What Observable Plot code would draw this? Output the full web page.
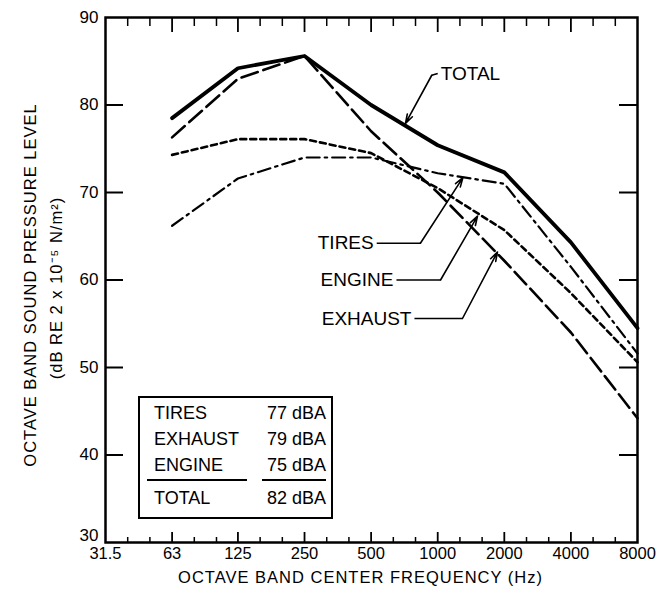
<!DOCTYPE html>
<html>
<head>
<meta charset="utf-8">
<script src="https://cdn.jsdelivr.net/npm/d3@7"></script>
<script src="https://cdn.jsdelivr.net/npm/@observablehq/plot@0.6"></script>
<style>
  html, body { margin: 0; padding: 0; background: #fff; }
  #chart { position: relative; width: 659px; height: 602px; font-family: "Liberation Sans", Arial, sans-serif; }
  #chart svg { display: block; }
  .levels {
    position: absolute; left: 138px; top: 396px; width: 195px; height: 123px;
    box-sizing: border-box; border: 2.5px solid #000; background: #fff;
    font-size: 18px; color: #000; padding: 2px 0 0 0;
  }
  .levels .row { position: relative; height: 26px; line-height: 26px; }
  .levels .name { position: absolute; left: 14px; }
  .levels .val { position: absolute; right: 5px; }
  .levels .rules { position: relative; height: 5px; }
  .levels .rules span { position: absolute; top: 1px; border-top: 2.5px solid #000; }
  .levels .total { margin-top: 2px; }
</style>
</head>
<body>
<div id="chart"></div>
<script>
// Octave band centre frequencies (Hz) and band levels (dB re 2x10^-5 N/m^2)
const bands = [63, 125, 250, 500, 1000, 2000, 4000, 8000];
const total   = [78.5, 84.2, 85.6, 80.0, 75.4, 72.3, 64.3, 54.5];
const exhaust = [76.3, 83.0, 85.6, 77.0, 70.0, 62.2, 54.0, 44.2];
const engine  = [74.3, 76.1, 76.1, 74.5, 70.5, 65.7, 58.5, 50.6];
const tires   = [66.2, 71.6, 74.0, 74.0, 72.2, 71.0, 61.5, 51.6];

// Axis ticks and labels
const xTicks = [31.5, 63, 125, 250, 500, 1000, 2000, 4000, 8000];
const xTickLabels = ["31.5", "63", "125", "250", "500", "1000", "2000", "4000", "8000"];
const yTicks = [30, 40, 50, 60, 70, 80, 90];

// Overall A-weighted levels
const levelNames = ["TIRES", "EXHAUST", "ENGINE"];
const levelValues = ["77 dBA", "79 dBA", "75 dBA"];
const totalName = "TOTAL";
const totalValue = "82 dBA";

// Curve call-outs: label anchor, leader elbow, arrow tip (Hz, dB)
const calloutText  = ["TOTAL", "TIRES", "ENGINE", "EXHAUST"];
const calloutHz    = [1000, 530, 651, 785];
const calloutDb    = [83.6, 64.2, 60.0, 55.6];
const elbowHz      = [940, 835, 1030, 1294];
const elbowDb      = [83.4, 64.2, 60.0, 55.6];
const tipHz        = [715, 1300, 1513, 1862];
const tipDb        = [77.9, 71.7, 67.3, 63.2];

const W = 659, H = 602;
const mL = 105, mR = 22, mT = 17, mB = 60;
const xMin = 31.5, xMax = 8000, yMin = 30, yMax = 90;
const pxPerOct = (W - mL - mR) / Math.log2(xMax / xMin);
const pxPerDb = (H - mT - mB) / (yMax - yMin);
const dbOf = px => px / pxPerDb;          // vertical pixel length -> dB
const octOf = px => 2 ** (px / pxPerOct); // horizontal pixel length -> frequency ratio

// Third-octave minor ticks between the octave centres
const minorTicks = xTicks.slice(0, -1).flatMap(f => [f * 2 ** (1 / 3), f * 2 ** (2 / 3)]);
const innerY = yTicks.slice(1, -1);

const rows = (name, vals) => bands.map((f, i) => ({series: name, f, db: vals[i]}));
const callouts = calloutText.map((t, i) => ({
  t, hz: calloutHz[i], db: calloutDb[i], ex: elbowHz[i], ey: elbowDb[i], tx: tipHz[i], ty: tipDb[i],
  anchor: i === 0 ? "start" : "end"
}));

const font = "'Liberation Sans', Arial, sans-serif";

const plot = Plot.plot({
  width: W, height: H,
  marginLeft: mL, marginRight: mR, marginTop: mT, marginBottom: mB,
  style: {fontFamily: font, fontSize: "17px", color: "#000", background: "#fff"},
  x: {type: "log", base: 2, domain: [xMin, xMax]},
  y: {domain: [yMin, yMax]},
  marks: [
    // tick marks drawn inward from every side of the frame
    Plot.ruleX(xTicks.slice(1, -1), {y1: yMin, y2: yMin + dbOf(10), strokeWidth: 1.8}),
    Plot.ruleX(minorTicks, {y1: yMin, y2: yMin + dbOf(5), strokeWidth: 1.5}),
    Plot.ruleX(xTicks.slice(1, -1), {y1: yMax, y2: yMax - dbOf(15), strokeWidth: 1.8}),
    Plot.ruleX(minorTicks, {y1: yMax, y2: yMax - dbOf(9), strokeWidth: 1.5}),
    Plot.ruleY(innerY, {x1: xMin, x2: xMin * octOf(18), strokeWidth: 2}),
    Plot.ruleY(innerY, {x1: xMax, x2: xMax / octOf(18), strokeWidth: 2}),
    Plot.frame({stroke: "#000", strokeWidth: 2.5}),
    Plot.axisY({ticks: yTicks.slice(1), tickSize: 0, tickPadding: 7, tickFormat: d => String(d), fontSize: 17}),
    // the corner label sits a little higher to clear the 31.5 Hz label
    Plot.axisY({ticks: yTicks.slice(0, 1), tickSize: 0, tickPadding: 7, dy: -7, tickFormat: d => String(d), fontSize: 17}),
    Plot.axisX({ticks: xTicks, tickSize: 0, tickPadding: 5, tickFormat: d => xTickLabels[xTicks.indexOf(d)], fontSize: 16.5}),

    // band spectra
    Plot.line(rows("TIRES", tires), {x: "f", y: "db", stroke: "#000", strokeWidth: 2.2, strokeDasharray: "13,5,2.5,5"}),
    Plot.line(rows("ENGINE", engine), {x: "f", y: "db", stroke: "#000", strokeWidth: 2.6, strokeDasharray: "6,4"}),
    Plot.line(rows("EXHAUST", exhaust), {x: "f", y: "db", stroke: "#000", strokeWidth: 2.6, strokeDasharray: "17,6"}),
    Plot.line(rows("TOTAL", total), {x: "f", y: "db", stroke: "#000", strokeWidth: 3.8}),

    // call-outs
    Plot.link(callouts, {x1: "hz", y1: "db", x2: "ex", y2: "ey", stroke: "#000", strokeWidth: 1.6}),
    Plot.arrow(callouts, {x1: "ex", y1: "ey", x2: "tx", y2: "ty", stroke: "#000", strokeWidth: 1.6, headLength: 9, headAngle: 35}),
    Plot.text(callouts.filter(d => d.anchor === "end"), {x: "hz", y: "db", text: "t", textAnchor: "end", dx: -3, fontSize: 19, fill: "#000"}),
    Plot.text(callouts.filter(d => d.anchor === "start"), {x: "hz", y: "db", text: "t", textAnchor: "start", dx: 3, fontSize: 19, fill: "#000"}),

    // axis titles
    Plot.text(["OCTAVE BAND SOUND PRESSURE LEVEL"], {frameAnchor: "left", textAnchor: "middle", dx: -75, dy: 5, rotate: -90, fontSize: 16.5, fill: "#000"}),
    Plot.text(["(dB RE 2 x 10\u207B\u2075 N/m\u00B2)"], {frameAnchor: "left", textAnchor: "middle", dx: -49, dy: 8, rotate: -90, fontSize: 16.5, fill: "#000"}),
    Plot.text(["OCTAVE BAND CENTER FREQUENCY (Hz)"], {frameAnchor: "bottom", textAnchor: "middle", dx: -11, dy: 40, fontSize: 16.5, fill: "#000"})
  ]
});

// wider tracking on the axis titles, as in hand lettering
d3.select(plot).selectAll("text").filter(function () {
  return /OCTAVE|RE 2/.test(this.textContent);
}).style("letter-spacing", "1px");

const chart = document.getElementById("chart");
chart.appendChild(plot);

// overall levels table inside the plot area
const box = document.createElement("div");
box.className = "levels";
box.innerHTML =
  levelNames.map((n, i) => `<div class="row"><span class="name">${n}</span><span class="val">${levelValues[i]}</span></div>`).join("") +
  `<div class="rules"><span style="left:7px;width:100px"></span><span style="left:122px;width:64px"></span></div>` +
  `<div class="row total"><span class="name">${totalName}</span><span class="val">${totalValue}</span></div>`;
chart.appendChild(box);
</script>
</body>
</html>
